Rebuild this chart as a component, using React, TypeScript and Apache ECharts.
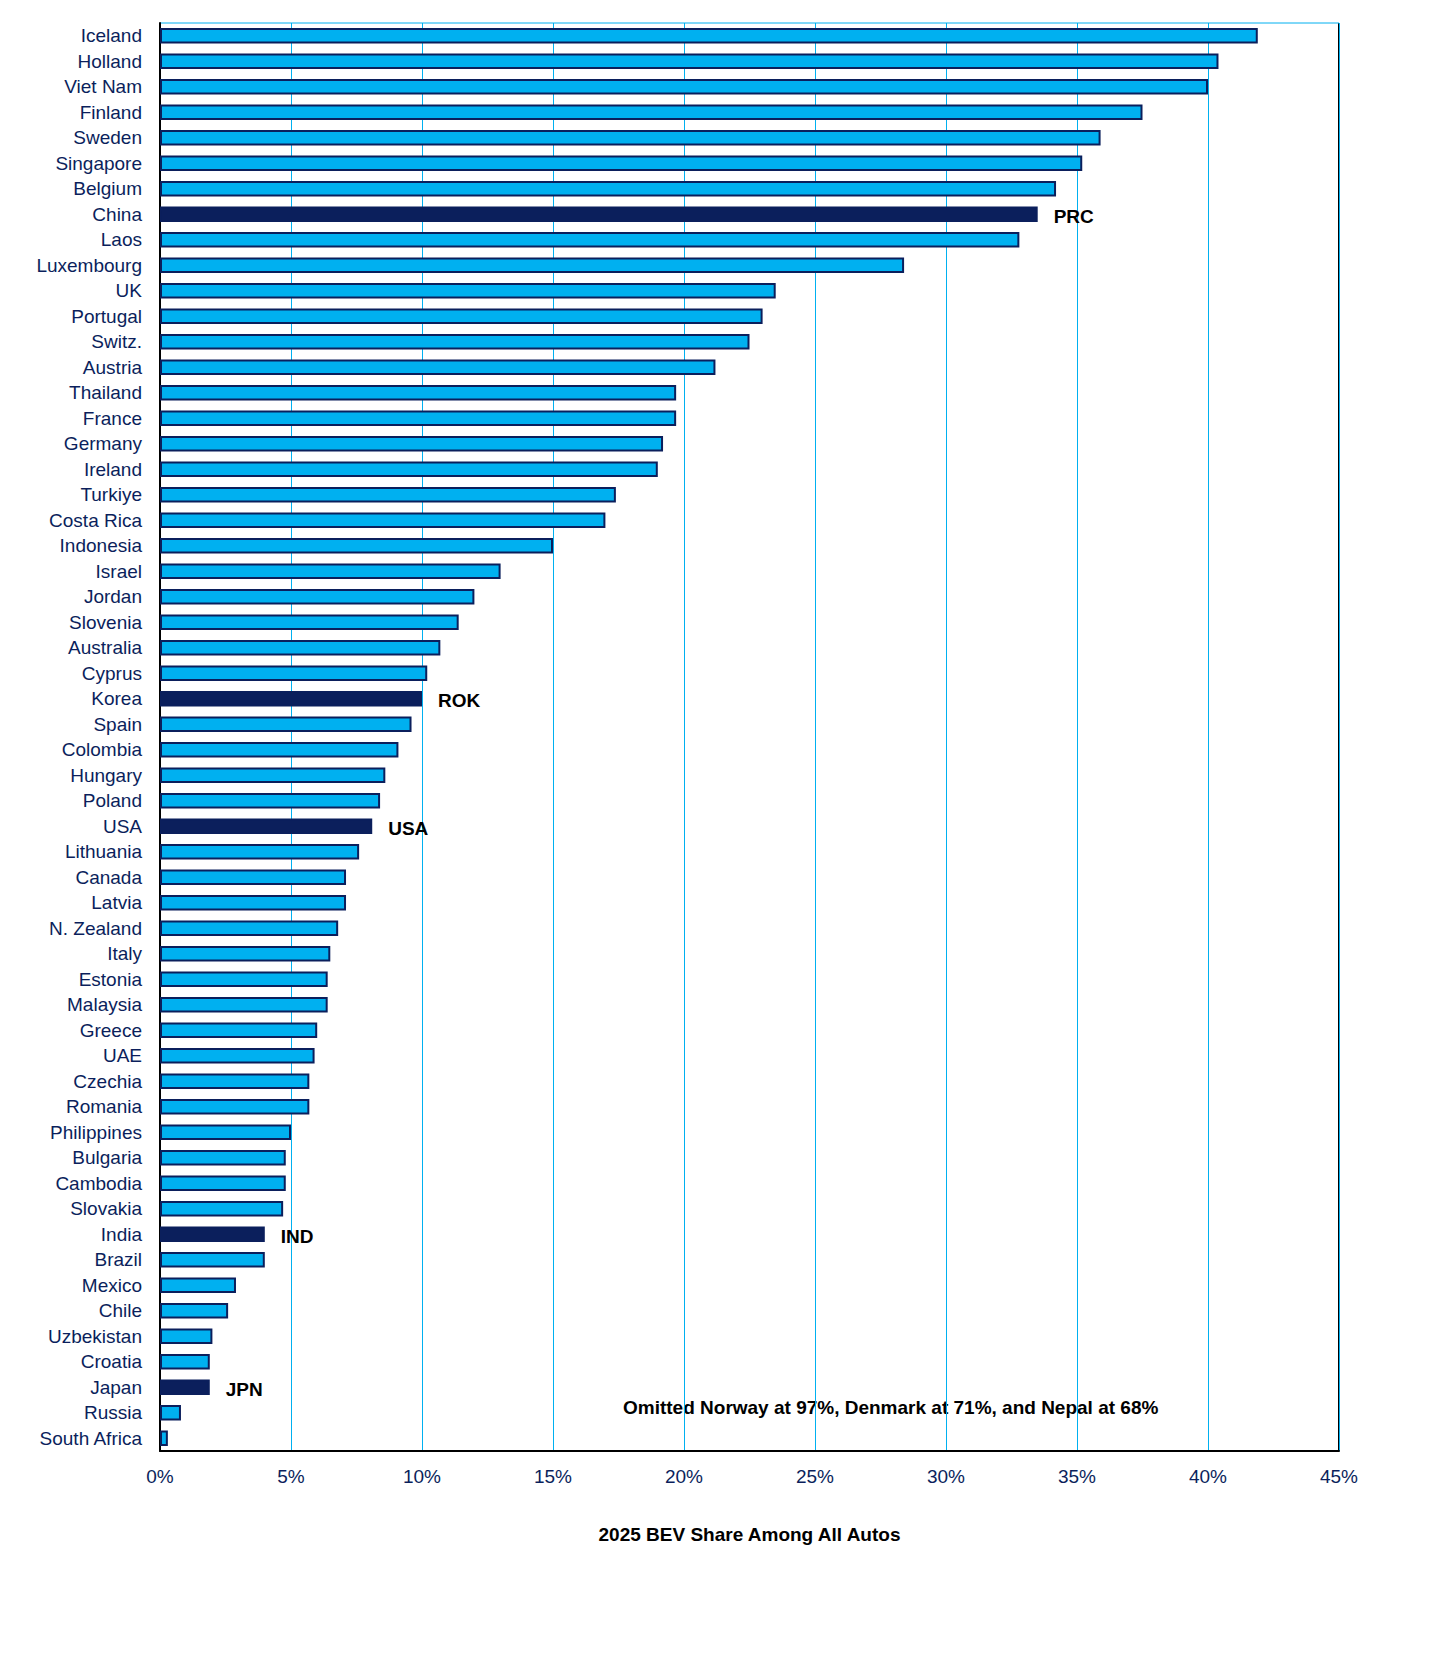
import React, { useEffect, useRef } from 'react';
import * as echarts from 'echarts';

const countries = ['Iceland', 'Holland', 'Viet Nam', 'Finland', 'Sweden', 'Singapore', 'Belgium', 'China', 'Laos', 'Luxembourg', 'UK', 'Portugal', 'Switz.', 'Austria', 'Thailand', 'France', 'Germany', 'Ireland', 'Turkiye', 'Costa Rica', 'Indonesia', 'Israel', 'Jordan', 'Slovenia', 'Australia', 'Cyprus', 'Korea', 'Spain', 'Colombia', 'Hungary', 'Poland', 'USA', 'Lithuania', 'Canada', 'Latvia', 'N. Zealand', 'Italy', 'Estonia', 'Malaysia', 'Greece', 'UAE', 'Czechia', 'Romania', 'Philippines', 'Bulgaria', 'Cambodia', 'Slovakia', 'India', 'Brazil', 'Mexico', 'Chile', 'Uzbekistan', 'Croatia', 'Japan', 'Russia', 'South Africa'];
const shares = [41.9, 40.4, 40.0, 37.5, 35.9, 35.2, 34.2, 33.5, 32.8, 28.4, 23.5, 23.0, 22.5, 21.2, 19.7, 19.7, 19.2, 19.0, 17.4, 17.0, 15.0, 13.0, 12.0, 11.4, 10.7, 10.2, 10.0, 9.6, 9.1, 8.6, 8.4, 8.1, 7.6, 7.1, 7.1, 6.8, 6.5, 6.4, 6.4, 6.0, 5.9, 5.7, 5.7, 5.0, 4.8, 4.8, 4.7, 4.0, 4.0, 2.9, 2.6, 2.0, 1.9, 1.9, 0.8, 0.3];
const highlights: Record<string, string> = { China: 'PRC', Korea: 'ROK', USA: 'USA', India: 'IND', Japan: 'JPN' };

const NAVY = '#0B1F5C';
const LIGHT = '#00B0F0';

const App: React.FC = () => {
  const chartRef = useRef<HTMLDivElement>(null);

  useEffect(() => {
    if (!chartRef.current) return;
    const chart = echarts.init(chartRef.current, undefined, { renderer: 'svg' });
    const font = 'Liberation Sans, Arial, sans-serif';
    chart.setOption({
      animation: false,
      textStyle: { fontFamily: font },
      grid: { left: 152, right: 109, top: 15, bottom: 196 },
      xAxis: {
        type: 'value', min: 0, max: 45, interval: 5, position: 'bottom',
        name: '2025 BEV Share Among All Autos', nameLocation: 'middle', nameGap: 74,
        nameTextStyle: { fontSize: 19, fontWeight: 'bold', color: '#000' },
        axisLabel: { formatter: '{value}%', fontSize: 19, color: NAVY, margin: 16 },
        axisLine: { show: true, lineStyle: { color: '#000', width: 2 } },
        axisTick: { show: false },
        splitLine: { lineStyle: { color: LIGHT, width: 1 } },
      },
      yAxis: {
        type: 'category', data: countries, inverse: true,
        axisLabel: { fontSize: 19, color: NAVY, margin: 18 },
        axisLine: { lineStyle: { color: '#000', width: 2 } },
        axisTick: { show: false },
      },
      graphic: [
        { type: 'line', shape: { x1: 1331, y1: 15, x2: 1331, y2: 1443 }, style: { stroke: '#000', lineWidth: 2 } },
        { type: 'line', shape: { x1: 152, y1: 15, x2: 1331, y2: 15 }, style: { stroke: LIGHT, lineWidth: 1 } },
        { type: 'text', left: 615, top: 1390, style: { text: 'Omitted Norway at 97%, Denmark at 71%, and Nepal at 68%', font: `bold 19px ${font}`, fill: '#000' } },
      ],
      series: [{
        type: 'bar',
        barCategoryGap: '40%',
        data: countries.map((c, i) => {
          const hl = highlights[c];
          return {
            value: shares[i],
            itemStyle: { color: hl ? NAVY : LIGHT, borderColor: NAVY, borderWidth: 2 },
            label: hl ? { show: true, position: 'right', distance: 16, formatter: hl, fontSize: 19, fontWeight: 'bold', color: '#000', offset: [0, 2] } : { show: false },
          };
        }),
      }],
    });
    return () => { chart.dispose(); };
  }, []);

  return <div ref={chartRef} style={{ width: 1440, height: 1639 }} />;
};

export default App;
